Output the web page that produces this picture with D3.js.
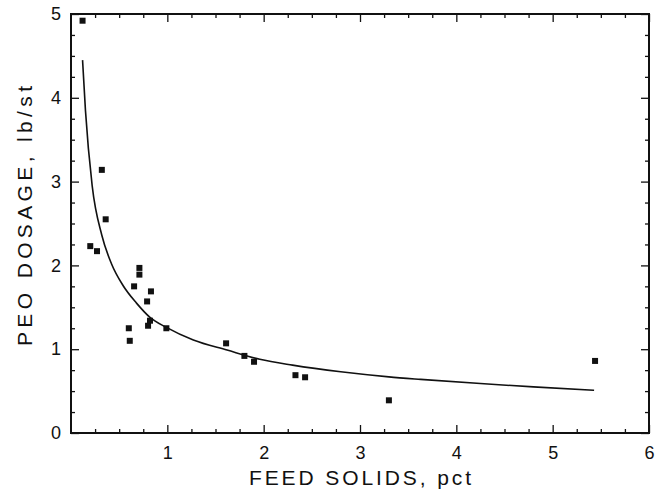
<!DOCTYPE html>
<html>
<head>
<meta charset="utf-8">
<script src="https://cdn.jsdelivr.net/npm/d3@7"></script>
<style>
  body { margin: 0; background: #fff; }
  text { font-family: "Liberation Sans", Arial, sans-serif; fill: #111; }
</style>
</head>
<body>
<div id="container"></div>
<script>
const width = 669
const height = 495

// measured points: feed solids (pct) vs PEO dosage (lb/st)
const feedSolids = [0.12, 0.32, 0.36, 0.20, 0.27, 0.71, 0.71, 0.655, 0.83, 0.79, 0.60, 0.61,
    0.80, 0.82, 0.99, 1.61, 1.80, 1.90, 2.33, 2.43, 3.30, 5.44]
const peoDosage = [4.92, 3.14, 2.55, 2.23, 2.17, 1.97, 1.89, 1.75, 1.69, 1.57, 1.25, 1.10,
    1.28, 1.34, 1.25, 1.07, 0.92, 0.85, 0.69, 0.665, 0.39, 0.86]

// fitted curve
const curveX = [0.12, 0.15, 0.22, 0.32, 0.42, 0.54, 0.68, 0.82, 0.99, 1.27, 1.62, 1.96, 2.3, 2.8, 3.3, 3.63, 4.25, 4.8, 5.43]
const curveY = [4.45, 3.85, 2.95, 2.36, 2.02, 1.76, 1.55, 1.38, 1.26, 1.11, 0.99, 0.88, 0.81, 0.73, 0.67, 0.64, 0.59, 0.55, 0.51]

const xTicks = [1, 2, 3, 4, 5, 6]
const yTicks = [0, 1, 2, 3, 4, 5]

const margin = { left: 71, top: 14, right: 20, bottom: 62 }
const innerW = width - margin.left - margin.right
const innerH = height - margin.top - margin.bottom

const svg = d3.select('#container').append('svg')
    .attr('width', width).attr('height', height)

const g = svg.append('g').attr('transform', `translate(${margin.left},${margin.top})`)

const x = d3.scaleLinear().domain([0, 6]).range([0, innerW])
const y = d3.scaleLinear().domain([0, 5]).range([innerH, 0])

const minorX = d3.range(0, 24).map(i => i * 0.25).filter(v => v % 1 !== 0)
const minorY = d3.range(0, 20).map(i => i * 0.25).filter(v => v % 1 !== 0)

function ticks(axis, vals, size, labels) {
    return axis.tickValues(vals).tickSize(-size).tickPadding(10)
        .tickFormat(labels ? d3.format('d') : '')
}

// bottom
const bx = g.append('g').attr('transform', `translate(0,${innerH})`)
bx.call(ticks(d3.axisBottom(x), xTicks, 8, true))
bx.append('g').call(ticks(d3.axisBottom(x), minorX, 4, false))
// top
const tx = g.append('g')
tx.call(ticks(d3.axisTop(x), xTicks, 8, false))
tx.append('g').call(ticks(d3.axisTop(x), minorX, 4, false))
// left
const ly = g.append('g')
ly.call(ticks(d3.axisLeft(y), yTicks, 8, true))
ly.append('g').call(ticks(d3.axisLeft(y), minorY, 4, false))
// right
const ry = g.append('g').attr('transform', `translate(${innerW},0)`)
ry.call(ticks(d3.axisRight(y), yTicks, 8, false))
ry.append('g').call(ticks(d3.axisRight(y), minorY, 4, false))

g.selectAll('.domain').remove()
g.selectAll('.tick line').attr('stroke', '#111').attr('stroke-width', 1.3)
g.selectAll('.tick text').style('font-size', '18px').attr('fill', '#111')
bx.selectAll('.tick text').attr('dy', '0.9em')

g.append('rect')
    .attr('width', innerW).attr('height', innerH)
    .attr('fill', 'none').attr('stroke', '#111').attr('stroke-width', 2)

// fitted curve
const line = d3.line()
    .x(i => x(curveX[i]))
    .y(i => y(curveY[i]))
    .curve(d3.curveMonotoneX)

g.append('path')
    .attr('d', line(d3.range(curveX.length)))
    .attr('fill', 'none').attr('stroke', '#111').attr('stroke-width', 1.6)

// data points
const s = 6
g.selectAll('.dot').data(d3.range(feedSolids.length)).enter().append('rect')
    .attr('class', 'dot')
    .attr('x', i => x(feedSolids[i]) - s / 2)
    .attr('y', i => y(peoDosage[i]) - s / 2)
    .attr('width', s).attr('height', s)
    .attr('fill', '#111')

// axis titles
svg.append('text')
    .attr('x', margin.left + x(3.0)).attr('y', 485)
    .attr('text-anchor', 'middle')
    .attr('textLength', 222).attr('lengthAdjust', 'spacing')
    .style('font-size', '21px')
    .text('FEED SOLIDS, pct')

svg.append('text')
    .attr('transform', 'translate(32,216) rotate(-90)')
    .attr('text-anchor', 'middle')
    .attr('textLength', 260).attr('lengthAdjust', 'spacing')
    .style('font-size', '21px')
    .text('PEO DOSAGE, lb/st')
</script>
</body>
</html>
